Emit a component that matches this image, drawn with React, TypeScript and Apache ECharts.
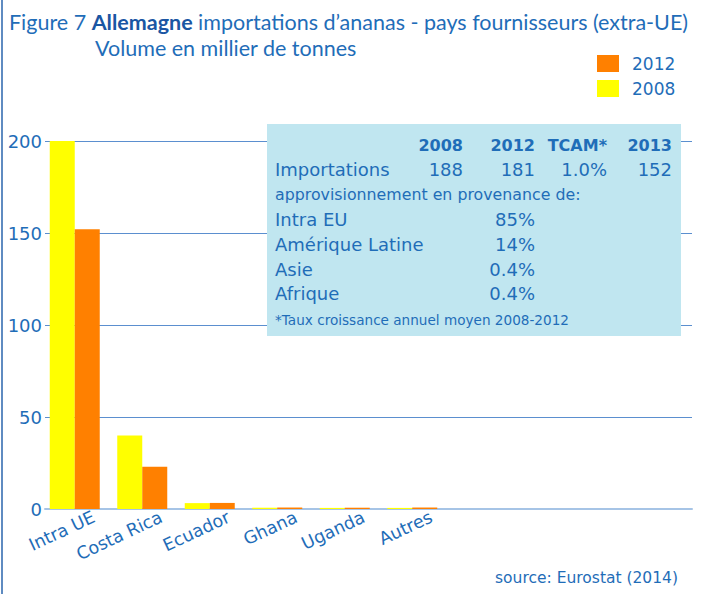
import React, { useEffect, useRef } from "react";
import * as echarts from "echarts";

const categories = ["Intra UE", "Costa Rica", "Ecuador", "Ghana", "Uganda", "Autres"];
const values2008 = [200, 40, 3.2, 0.7, 0.6, 0.6];
const values2012 = [152, 23, 3.3, 0.8, 0.7, 0.8];
const yTicks = { min: 0, max: 200, interval: 50 };

const boxHeader = ["2008", "2012", "TCAM*", "2013"];
const importRow = ["Importations", "188", "181", "1.0%", "152"];
const supplyLabel = "approvisionnement en provenance de:";
const supplyRegions = ["Intra EU", "Amérique Latine", "Asie", "Afrique"];
const supplyShares = ["85%", "14%", "0.4%", "0.4%"];
const footnote = "*Taux croissance annuel moyen 2008-2012";
const sourceText = "source: Eurostat (2014)";

const BLUE = "#1f6db8";
const FONT = "DejaVu Sans";

export default function App() {
  const ref = useRef<HTMLDivElement>(null);
  useEffect(() => {
    if (!ref.current) return;
    const chart = echarts.init(ref.current, null, { renderer: "svg" });
    const colX = [463, 535, 607, 672];
    const rowY = [145, 169, 194, 219, 244, 269, 293, 320];
    const boxTexts: any[] = [];
    const t = (x: number, y: number, text: string, font: string, align: string) => ({
      type: "text",
      x,
      y,
      z: 20,
      style: { text, fill: BLUE, font, textAlign: align, textVerticalAlign: "middle" },
    });
    boxHeader.forEach((h, i) => boxTexts.push(t(colX[i], rowY[0], h, `bold 16px "${FONT}"`, "right")));
    boxTexts.push(t(275, rowY[1], importRow[0], `18px "${FONT}"`, "left"));
    importRow.slice(1).forEach((v, i) => boxTexts.push(t(colX[i], rowY[1], v, `18px "${FONT}"`, "right")));
    boxTexts.push(t(275, rowY[2], supplyLabel, `15.8px "${FONT}"`, "left"));
    supplyRegions.forEach((r, i) => {
      boxTexts.push(t(275, rowY[3 + i], r, `18px "${FONT}"`, "left"));
      boxTexts.push(t(colX[1], rowY[3 + i], supplyShares[i], `18px "${FONT}"`, "right"));
    });
    boxTexts.push(t(275, rowY[7], footnote, `13.6px "${FONT}"`, "left"));

    const titleFont = { fontFamily: "Lato", fontSize: 21.5, fontWeight: "normal", color: BLUE };

    chart.setOption({
      animation: false,
      backgroundColor: "#ffffff",
      title: [
        {
          left: 9,
          top: 22,
          padding: 0,
          textVerticalAlign: "middle",
          text: "{n|Figure 7 }{b|Allemagne}{n| importations d’ananas - pays fournisseurs (extra-UE)}",
          textStyle: {
            fontWeight: "normal",
            lineHeight: 1,
            rich: {
              n: { ...titleFont, lineHeight: 1 },
              b: { ...titleFont, lineHeight: 1, fontWeight: "bold", color: "#1a56a3" },
            },
          },
        },
        {
          left: 95,
          top: 36,
          padding: 0,
          text: "Volume en millier de tonnes",
          textStyle: { ...titleFont, lineHeight: 23 },
        },
      ],
      legend: {
        data: ["2012", "2008"],
        orient: "vertical",
        left: 597,
        top: 55,
        padding: 0,
        itemWidth: 22,
        itemHeight: 17,
        itemGap: 8,
        icon: "rect",
        textStyle: { fontFamily: FONT, fontSize: 17, color: BLUE, padding: [0, 0, 0, 8] },
      },
      grid: [
        { left: 45, right: 19, top: 141, height: 368 },
        { left: 41, width: 405, top: 141, height: 368 },
        { left: 60, width: 405, top: 141, height: 368 },
      ],
      xAxis: [
        {
          gridIndex: 0,
          type: "category",
          data: [],
          axisLine: { show: true, lineStyle: { color: "#a6c4e6", width: 2 } },
          axisTick: { show: false },
          axisLabel: { show: false },
        },
        {
          gridIndex: 1,
          type: "category",
          data: categories,
          axisLine: { show: false },
          axisTick: { show: false },
          axisLabel: { show: false },
        },
        {
          gridIndex: 2,
          type: "category",
          data: categories,
          axisLine: { show: false },
          axisTick: { show: false },
          axisLabel: { rotate: 25, fontFamily: FONT, fontSize: 17.5, color: BLUE, margin: 7 },
        },
      ],
      yAxis: [
        {
          gridIndex: 0,
          type: "value",
          ...yTicks,
          axisLine: { show: false },
          axisTick: { show: false },
          splitLine: { lineStyle: { color: "#5b8fcf", width: 1 } },
          axisLabel: { fontFamily: FONT, fontSize: 18, color: BLUE, margin: 3 },
        },
        { gridIndex: 1, type: "value", ...yTicks, show: false, splitLine: { show: false } },
        { gridIndex: 2, type: "value", ...yTicks, show: false, splitLine: { show: false } },
      ],
      series: [
        { name: "2008", type: "bar", xAxisIndex: 1, yAxisIndex: 1, data: values2008, barWidth: 25, barGap: "0%", itemStyle: { color: "#ffff00" } },
        { name: "2012", type: "bar", xAxisIndex: 1, yAxisIndex: 1, data: values2012, barWidth: 25, barGap: "0%", itemStyle: { color: "#ff8000" } },
      ],
      graphic: [
        { type: "line", shape: { x1: 2, y1: 0, x2: 2, y2: 594 }, style: { stroke: "#2a64ad", lineWidth: 1.5 } },
        { type: "rect", z: 10, shape: { x: 267, y: 124, width: 414, height: 212 }, style: { fill: "#c0e6f0" } },
        ...boxTexts,
        { type: "text", x: 678, y: 578, style: { text: sourceText, fill: BLUE, font: `15.5px "${FONT}"`, textAlign: "right", textVerticalAlign: "middle" } },
      ],
    });
    return () => chart.dispose();
  }, []);
  return <div ref={ref} style={{ position: "fixed", left: 0, top: 0, width: 711, height: 594 }} />;
}
